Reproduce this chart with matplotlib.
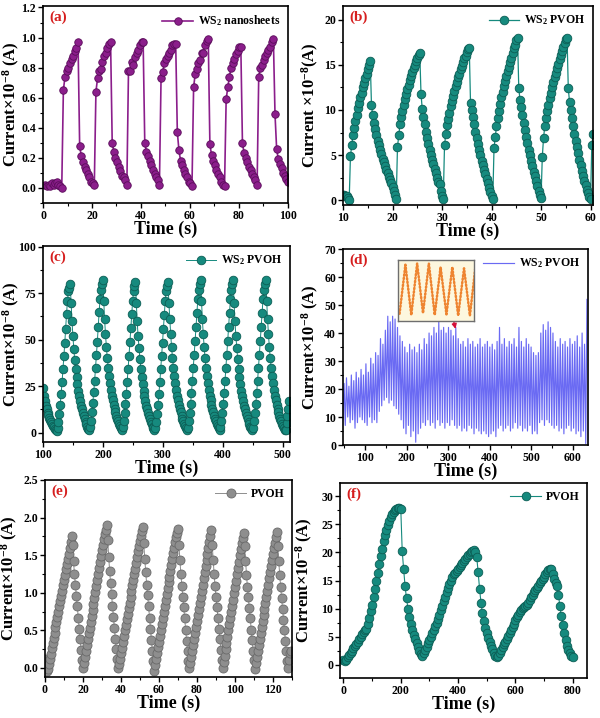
import numpy as np
import matplotlib
matplotlib.use('Agg')
import matplotlib.pyplot as plt
from matplotlib.ticker import MultipleLocator

plt.rcParams['font.family'] = 'Liberation Serif'
plt.rcParams['font.weight'] = 'bold'
plt.rcParams['axes.labelweight'] = 'bold'
plt.rcParams['mathtext.fontset'] = 'custom'
plt.rcParams['mathtext.rm'] = 'Liberation Serif:bold'
plt.rcParams['mathtext.it'] = 'Liberation Serif:bold'
plt.rcParams['mathtext.bf'] = 'Liberation Serif:bold'
plt.rcParams['mathtext.default'] = 'rm'

# (a) WS2 nanosheets, sampled every 0.665 s from t = 1 s
a_t0, a_dt = 1.0, 0.665
a_cur = [0.02, 0.01, 0.02, 0.01, 0.03, 0.02, 0.03, 0.04, 0.02, 0.01, 0.00,
         0.65, 0.74, 0.78, 0.80, 0.83, 0.86, 0.88, 0.91, 0.93, 0.97,
         0.28, 0.21, 0.17, 0.14, 0.12, 0.09, 0.07, 0.04, 0.03, 0.02,
         0.64, 0.73, 0.78, 0.79, 0.84, 0.88, 0.90, 0.93, 0.96, 0.97,
         0.30, 0.24, 0.20, 0.17, 0.14, 0.11, 0.08, 0.07, 0.05, 0.02,
         0.78, 0.78, 0.84, 0.82, 0.87, 0.90, 0.92, 0.95, 0.97, 0.97,
         0.30, 0.24, 0.21, 0.18, 0.15, 0.12, 0.09, 0.07, 0.05, 0.02,
         0.73, 0.77, 0.83, 0.86, 0.88, 0.90, 0.92, 0.95, 0.96, 0.96,
         0.37, 0.25, 0.18, 0.15, 0.12, 0.09, 0.07, 0.04, 0.03, 0.01,
         0.67, 0.76, 0.79, 0.83, 0.85, 0.90, 0.90, 0.95, 0.98, 0.99,
         0.29, 0.22, 0.18, 0.15, 0.12, 0.09, 0.07, 0.04, 0.02, 0.01,
         0.59, 0.67, 0.74, 0.80, 0.83, 0.86, 0.89, 0.91, 0.94, 0.94,
         0.30, 0.23, 0.20, 0.17, 0.14, 0.12, 0.09, 0.07, 0.05, 0.02,
         0.74, 0.80, 0.82, 0.85, 0.88, 0.90, 0.92, 0.94, 0.97, 0.99,
         0.49, 0.26, 0.19, 0.16, 0.13, 0.10, 0.08, 0.06, 0.04]

# (b) WS2 PVOH, every 0.25 s from t = 10 s
b_t0, b_dt = 10.0, 0.25
b_cur = [0.6, 0.55, 0.5, 0.45, 0.3, 0.1,
         4.9, 6.1, 7.2, 8.0, 8.8, 9.5, 10.2, 10.8, 11.4, 11.9, 12.5, 13.0, 13.5, 14.0, 14.5, 15.0, 15.4,
         10.5, 9.4, 8.6, 7.9, 7.2, 6.6, 6.1, 5.6, 5.1, 4.6, 4.2, 3.8, 3.4, 3.0, 2.6, 2.3, 1.9, 1.5, 1.1, 0.6, 0.2,
         5.9, 7.2, 8.4, 9.2, 9.9, 10.6, 11.2, 11.8, 12.3, 12.8, 13.3, 13.8, 14.2, 14.6, 15.0, 15.4, 15.8, 16.1, 16.3,
         11.8, 10.1, 9.2, 8.4, 7.6, 6.9, 6.2, 5.6, 5.0, 4.5, 4.0, 3.5, 3.0, 2.5, 2.0, 1.8, 1.0, 0.5, 0.2,
         6.1, 7.3, 8.3, 9.0, 9.7, 10.4, 11.0, 11.6, 12.1, 12.6, 13.1, 13.6, 14.0, 14.5, 14.9, 15.3, 15.7, 16.0, 16.4, 16.7, 16.9,
         10.8, 10.0, 9.2, 8.4, 7.6, 6.9, 6.2, 5.6, 5.0, 4.4, 3.9, 3.4, 2.9, 2.4, 1.9, 1.4, 0.9, 0.5, 0.2,
         5.8, 7.0, 8.2, 9.1, 9.9, 10.7, 11.4, 12.0, 12.6, 13.2, 13.8, 14.3, 14.8, 15.3, 15.8, 16.3, 16.8, 17.2, 17.7, 18.0,
         12.4, 11.1, 10.3, 9.4, 8.6, 7.8, 7.0, 6.3, 5.6, 5.0, 4.4, 3.8, 3.2, 2.7, 2.2, 1.6, 1.1, 0.6, 0.3,
         4.8, 6.9, 8.2, 9.1, 9.9, 10.6, 11.3, 11.9, 12.5, 13.1, 13.6, 14.1, 14.6, 15.1, 15.6, 16.1, 16.5, 17.0, 17.4, 17.8, 18.0,
         12.4, 10.9, 10.0, 9.1, 8.2, 7.4, 6.6, 5.9, 5.2, 4.5, 3.9, 3.3, 2.7, 2.2, 1.7, 1.2, 0.8, 0.4, 0.2,
         6.1, 7.3]

# (c) WS2 PVOH, every 1.51 s from t = 100 s
c_t0, c_dt = 100.0, 1.51
c_cur = [24, 20, 17, 14.5, 12.5, 10.8, 9.3, 8.0, 6.8, 5.7, 4.7, 3.8, 3.0, 2.2, 1.5, 0.9,
         2.5, 6, 10, 15, 21, 27, 34, 41, 48, 56, 64, 71, 76, 78, 80,
         70, 60, 52, 45, 39, 34, 30, 26, 22.5, 19.5, 17, 14.5, 12.5, 10.5, 8.8, 7.2, 5.8, 4.5, 3.3, 2.2, 1.4,
         3.0, 6.5, 11, 16, 22, 28, 35, 42, 49, 57, 65, 72, 77, 80, 82,
         71, 61, 53, 46, 40, 35, 30.5, 26.5, 23, 20, 17.5, 15, 13, 11, 9.2, 7.6, 6.1, 4.8, 3.6, 2.5, 1.6,
         2.8, 6.2, 10.5, 15.5, 21, 27.5, 34.5, 41.5, 49, 56.5, 64, 71, 76, 79, 81,
         70, 60, 52, 45.5, 39.5, 34.5, 30, 26, 22.5, 19.5, 17, 14.5, 12.5, 10.5, 8.8, 7.2, 5.8, 4.5, 3.3, 2.3, 1.5,
         2.5, 6, 10, 15, 21, 27, 34, 41, 48.5, 56, 63.5, 71, 76, 79, 81,
         70, 61, 53, 46, 40, 35, 30.5, 26.5, 23, 20, 17.5, 15, 13, 11, 9.2, 7.6, 6.1, 4.8, 3.6, 2.4, 1.2,
         2.6, 6.2, 10.5, 15.5, 21.5, 28, 35, 42, 49.5, 57, 64.5, 72, 77, 80, 82,
         71, 61, 53, 46, 40, 35, 30.5, 26.5, 23, 20, 17.5, 15, 13, 11, 9.2, 7.6, 6.1, 4.8, 3.6, 2.5, 1.6,
         2.8, 6.4, 10.5, 15.5, 21.5, 28, 35, 42, 49.5, 57, 64.5, 72, 77, 80, 82,
         70, 60, 52, 45.5, 39.5, 34.5, 30, 26, 22.5, 19.5, 17, 14.5, 12.5, 10.5, 8.8, 7.2, 5.8, 4.5, 3.3, 2.3, 1.4,
         2.7, 6.3, 10.5, 15.5, 21.5, 28, 35, 42, 49.5, 57, 64.5, 72, 77, 80, 82,
         71, 61, 53, 46, 40, 35, 30.5, 26.5, 23, 20, 17.5, 15, 13, 11, 9.2, 7.6, 6.1, 4.8, 3.6, 2.5, 1.3,
         1.5, 5, 9, 13, 17]

# (d) WS2 PVOH, long run: successive troughs and peaks, one cycle every 5.84 s
d_low_t0, d_high_t0, d_period = 46.6, 49.5, 5.84
d_high = [22, 24, 21, 25, 23, 26, 24,
          27, 25, 29, 26,
          31, 29, 33, 32,
          38, 36, 41,
          46, 44, 46, 45,
          42, 39, 37,
          35, 33, 36, 34, 35, 33, 36, 34,
          38, 36, 40, 39,
          42, 40, 44, 41, 42, 40, 42, 41, 39, 42,
          38, 36, 37, 35, 38, 36, 37, 35, 36, 38, 35, 36,
          37, 35, 36, 34, 37,
          42,
          36, 38, 35, 37, 36, 38, 35,
          42,
          37, 35, 38, 36, 35,
          33, 32, 33,
          40, 43, 41, 44, 42, 40,
          37, 35, 38, 36, 37, 35, 38, 36, 37, 39, 35, 40, 36,
          52]
d_low = [9, 7, 10, 8, 9, 6, 8, 10, 9, 8, 7, 10, 8, 9, 8,
         12, 14, 16,
         17, 15, 16, 14,
         13, 11, 9,
         6, 4, 7, 3, 5, 1, 4, 6,
         8, 7, 9, 7,
         8, 6, 9, 7, 8, 6, 8, 7, 9, 7,
         6, 7, 5, 6, 5, 7, 6, 4, 6, 5, 4, 5,
         4, 3, 4, 5, 3,
         6, 7, 5, 6, 7, 5, 6, 8, 6, 7, 5, 6, 5, 7,
         4, 5, 4,
         8, 9, 7, 9, 8, 7,
         6, 7, 5, 6, 4, 6, 7, 5, 6, 4, 5, 3, 5,
         0.5]
# inset of (d): zoomed-in sawtooth
ins_low = [1.2, 1.0, 1.3, 1.0, 1.1, 0.9, 0.9]
ins_high = [9.4, 9.6, 9.6, 9.0, 9.0, 8.8, 9.5]

# (e) PVOH, every 0.5 s from t = 0 s
e_t0, e_dt = 0.0, 0.5
e_cur = [0.12, 0.0, -0.04,
         -0.02, 0.05, 0.12, 0.19, 0.26, 0.33, 0.40, 0.47, 0.54, 0.61, 0.68, 0.75, 0.82,
         0.89, 0.96, 1.03, 1.10, 1.17, 1.24, 1.31, 1.38, 1.45, 1.52, 1.60, 1.68, 1.76,
         1.63, 1.42, 1.25, 1.10, 0.96, 0.82, 0.67, 0.52, 0.38, 0.24, 0.10, 0.0,
         0.06, 0.14, 0.22, 0.30, 0.38, 0.46, 0.53, 0.61, 0.69, 0.77, 0.85, 0.93, 1.01,
         1.09, 1.17, 1.25, 1.33, 1.41, 1.49, 1.57, 1.64, 1.71, 1.78, 1.84, 1.90,
         1.70, 1.48, 1.29, 1.13, 0.98, 0.83, 0.68, 0.53, 0.39, 0.25, 0.12, 0.0,
         0.05, 0.12, 0.20, 0.27, 0.35, 0.42, 0.50, 0.57, 0.65, 0.72, 0.80, 0.87, 0.95,
         1.02, 1.10, 1.17, 1.25, 1.32, 1.40, 1.47, 1.55, 1.62, 1.69, 1.76, 1.82, 1.87,
         1.66, 1.45, 1.27, 1.11, 0.97, 0.82, 0.67, 0.52, 0.37, 0.23, 0.09, -0.04,
         0.04, 0.12, 0.20, 0.28, 0.35, 0.43, 0.51, 0.59, 0.67, 0.74, 0.82, 0.90, 0.98,
         1.06, 1.14, 1.21, 1.29, 1.37, 1.45, 1.53, 1.60, 1.67, 1.74, 1.80, 1.85,
         1.64, 1.43, 1.25, 1.09, 0.95, 0.81, 0.66, 0.51, 0.36, 0.22, 0.09, 0.0,
         0.07, 0.15, 0.23, 0.31, 0.39, 0.47, 0.55, 0.63, 0.71, 0.79, 0.87, 0.95,
         1.03, 1.11, 1.19, 1.27, 1.35, 1.43, 1.51, 1.59, 1.67, 1.75, 1.83,
         1.63, 1.43, 1.25, 1.09, 0.95, 0.81, 0.66, 0.52, 0.38, 0.24, 0.11, 0.0,
         0.08, 0.16, 0.25, 0.33, 0.41, 0.50, 0.58, 0.66, 0.75, 0.83, 0.91,
         1.00, 1.08, 1.16, 1.25, 1.33, 1.41, 1.50, 1.58, 1.66, 1.73, 1.80,
         1.62, 1.42, 1.24, 1.08, 0.94, 0.80, 0.66, 0.51, 0.37, 0.23, 0.10, -0.01,
         0.07, 0.15, 0.23, 0.31, 0.39, 0.47, 0.55, 0.63, 0.71, 0.79, 0.87, 0.95,
         1.03, 1.11, 1.19, 1.27, 1.35, 1.43, 1.51, 1.59, 1.66, 1.74, 1.81,
         1.62, 1.42, 1.24, 1.08, 0.93, 0.79, 0.64, 0.50, 0.36, 0.22, 0.09, 0.0,
         0.10, 0.20, 0.22]

# (f) PVOH, every 5 s from t = 0 s
f_t0, f_dt = 0.0, 5.0
f_cur = [0.8, 0.7, 0.9, 1.3, 1.7, 2.1, 2.5, 2.9, 3.3, 3.7, 4.1, 4.6, 5.0, 5.4, 5.8, 6.1,
         6.3, 7.2, 8.3, 9.5, 10.7, 12.0, 13.4, 14.9, 16.4, 17.9, 19.3, 20.7, 22.0, 23.1,
         24.0, 24.9, 25.7, 26.4, 26.9, 27.3, 27.6, 27.8, 27.9, 28.0, 27.8,
         20.3, 17.0, 14.0, 11.8, 10.0, 8.5, 7.3, 6.2, 5.3, 4.5, 3.8, 3.1, 2.5, 1.9, 1.5,
         2.0, 2.6, 3.2, 3.8, 4.4, 5.0, 5.6, 6.2, 6.8, 7.5, 8.2, 8.9, 9.7, 10.5, 11.3,
         12.1, 12.9, 13.6, 14.3, 15.0, 15.6, 16.1, 16.4, 16.7, 17.0, 17.4, 17.8, 18.1,
         18.5, 18.9, 19.2, 19.5, 19.8, 20.1, 20.3, 20.4, 20.0,
         19.2, 16.5, 13.5, 11.0, 9.2, 7.8, 6.6, 5.6, 4.8, 4.0, 3.3, 2.7, 2.1, 1.6, 1.3,
         1.6, 2.1, 2.6, 3.1, 3.6, 4.1, 4.6, 5.1, 5.6, 6.1, 6.7, 7.3, 7.9, 8.4, 8.9, 9.4,
         9.8, 10.1, 10.3, 10.4, 10.6, 11.0, 11.5, 12.0, 12.5, 12.9, 13.3, 13.7, 14.1,
         14.5, 14.9, 15.3, 15.7, 16.1, 16.5, 16.9, 17.1, 17.0,
         16.2, 15.3, 14.6, 14.0, 12.5, 10.5, 8.7, 7.0, 5.6, 4.4, 3.4, 2.6, 2.0, 1.6, 1.4]


def t_axis(t0, dt, vals):
    return t0 + dt * np.arange(len(vals))


def style(ax, xlim, ylim, xmaj, xmin, ymaj, ymin, ylabel, tag, ylx=-0.09):
    ax.set_xlim(*xlim)
    ax.set_ylim(*ylim)
    ax.xaxis.set_major_locator(MultipleLocator(xmaj))
    ax.xaxis.set_minor_locator(MultipleLocator(xmin))
    ax.yaxis.set_major_locator(MultipleLocator(ymaj))
    ax.yaxis.set_minor_locator(MultipleLocator(ymin))
    ax.tick_params(which='major', direction='out', length=3.5, width=1.0,
                   labelsize=8.5, pad=1.5)
    ax.tick_params(which='minor', direction='out', length=2, width=0.8)
    for sp in ax.spines.values():
        sp.set_linewidth(1.2)
    ax.set_xlabel('Time (s)', fontsize=13, labelpad=-1)
    ax.set_ylabel(ylabel, fontsize=12)
    ax.yaxis.set_label_coords(ylx, 0.5)
    ax.text(0.025, 0.975, tag, color='#d61e1e', fontsize=11, fontweight='bold',
            transform=ax.transAxes, va='top', ha='left')
    ax.legend(loc='upper right', frameon=False, fontsize=8.5, handlelength=2.6,
              handletextpad=0.4, borderaxespad=0.25)


fig = plt.figure(figsize=(6, 7.18), dpi=100)
ylab = 'Current×10$^{-8}$ (A)'

purple = '#8b1e8b'
teal = '#168a7e'
grey = '#8e8e8e'
blue = '#5a5af2'

# (a)
ax = fig.add_axes([0.0717, 0.7173, 0.408, 0.2744])
ax.plot(t_axis(a_t0, a_dt, a_cur), a_cur, '-o', color=purple, lw=1.2, ms=5.4,
        mec='#5a0c5a', mew=0.6, label='WS$_2$ nanosheets')
style(ax, (0, 100), (-0.1, 1.21), 20, 10, 0.2, 0.1, ylab, '(a)', -0.087)

# (b)
ax = fig.add_axes([0.5717, 0.7145, 0.4167, 0.2772])
ax.plot(t_axis(b_t0, b_dt, b_cur), b_cur, '-o', color=teal, lw=0.9, ms=6.2,
        mec='#0c5e55', mew=0.6, label='WS$_2$ PVOH')
style(ax, (10, 60.5), (-0.5, 21.5), 10, 5, 5, 2.5, 'Current ×10$^{-8}$(A)',
      '(b)', -0.088)

# (c)
ax = fig.add_axes([0.0717, 0.3844, 0.4117, 0.273])
ax.plot(t_axis(c_t0, c_dt, c_cur), c_cur, '-o', color=teal, lw=0.7, ms=6.2,
        mec='#0c5e55', mew=0.6, label='WS$_2$ PVOH')
style(ax, (100, 512), (-5, 100.4), 100, 50, 25, 12.5, ylab, '(c)', -0.087)

# (d)
ax = fig.add_axes([0.5717, 0.3802, 0.4083, 0.273])
d_t = np.empty(2 * len(d_high))
d_v = np.empty(2 * len(d_high))
d_t[0::2] = d_low_t0 + d_period * np.arange(len(d_low))
d_t[1::2] = d_high_t0 + d_period * np.arange(len(d_high))
d_v[0::2] = d_low
d_v[1::2] = d_high
ax.plot(d_t, d_v, '-', color=blue, lw=0.85, alpha=0.9, label='WS$_2$ PVOH')
style(ax, (47, 636), (0, 70), 100, 50, 10, 5, ylab, '(d)', -0.09)
ax.annotate('', xy=(319, 40.5), xytext=(311, 45.5),
            arrowprops=dict(arrowstyle='-|>', color='#d3103a', lw=1.0,
                            mutation_scale=7))

axins = fig.add_axes([0.663, 0.553, 0.127, 0.085])
ins_t = np.empty(2 * len(ins_low))
ins_v = np.empty(2 * len(ins_low))
ins_t[0::2] = 2 * np.arange(len(ins_low))
ins_t[1::2] = 2 * np.arange(len(ins_high)) + 1
ins_v[0::2] = ins_low
ins_v[1::2] = ins_high
axins.plot(ins_t, ins_v, color='#ee8430', lw=1.8, ls=(0, (0.5, 0.9)),
           dash_capstyle='round')
axins.set_facecolor('#fdf7de')
axins.set_xlim(-0.3, 12.7)
axins.set_ylim(0, 10.2)
axins.set_xticks([])
axins.set_yticks([])
for sp in axins.spines.values():
    sp.set_color('#6e6e6e')
    sp.set_linewidth(1.0)

# (e)
ax = fig.add_axes([0.075, 0.0571, 0.4117, 0.2744])
ax.plot(t_axis(e_t0, e_dt, e_cur), e_cur, '-o', color=grey, lw=0.7, ms=6.5,
        mec='#6a6a6a', mew=0.6, label='PVOH')
style(ax, (0, 130), (-0.12, 2.5), 20, 10, 0.5, 0.25, ylab, '(e)', -0.1)

# (f)
ax = fig.add_axes([0.5667, 0.0557, 0.4117, 0.2716])
ax.plot(t_axis(f_t0, f_dt, f_cur), f_cur, '-o', color=teal, lw=0.8, ms=6.2,
        mec='#0c5e55', mew=0.6, label='PVOH')
style(ax, (-12, 850), (-2.4, 32.4), 200, 100, 5, 2.5, ylab, '(f)', -0.1)

fig.savefig('out.png', dpi=100)
